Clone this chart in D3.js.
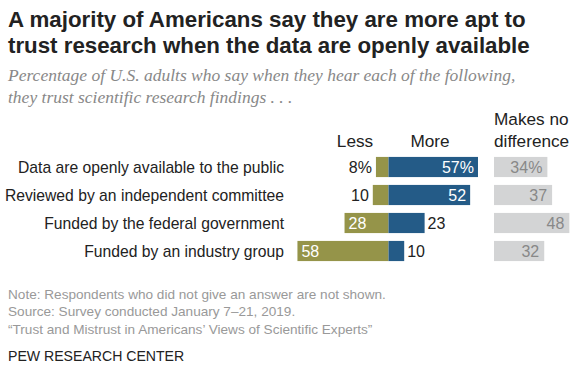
<!DOCTYPE html>
<html><head><meta charset="utf-8">
<script src="https://cdn.jsdelivr.net/npm/d3@7"></script>
<style>body{margin:0;background:#fff}svg{display:block}text{font-family:"Liberation Sans",Arial,Helvetica,sans-serif}</style>
</head><body><svg id="c" width="587" height="371"></svg>
<script>
const categories = ["Data are openly available to the public","Reviewed by an independent committee","Funded by the federal government","Funded by an industry group"];
const lessValues = [8,10,28,58];
const moreValues = [57,52,23,10];
const noDiffValues = [34,37,48,32];
const lessLabels = ["8%","10","28","58"];
const moreLabels = ["57%","52","23","10"];
const noDiffLabels = ["34%","37","48","32"];

const svg = d3.select("#c");
const olive = "#959449", blue = "#245B87", grey = "#D3D4D5";

// Title
svg.append("text").attr("x",8).attr("y",27).attr("font-size",22.3).attr("font-weight","bold").attr("fill","#222").text("A majority of Americans say they are more apt to");
svg.append("text").attr("x",8).attr("y",53).attr("font-size",22.3).attr("font-weight","bold").attr("fill","#222").text("trust research when the data are openly available");
svg.append("text").attr("x",8).attr("y",81).attr("font-size",17.5).attr("font-style","italic").attr("fill","#888").style("font-family","'Liberation Serif','DejaVu Serif',serif").text("Percentage of U.S. adults who say when they hear each of the following,");
svg.append("text").attr("x",8).attr("y",103).attr("font-size",17.5).attr("font-style","italic").attr("fill","#888").style("font-family","'Liberation Serif','DejaVu Serif',serif").text("they trust scientific research findings . . .");

const y = d3.scaleBand().domain(categories).range([153,265]).paddingInner(0.28).paddingOuter(0.14);
const zeroX = 388.5;
const x = d3.scaleLinear().domain([0,100]).range([0,157]);
const gx0 = 494;

const g = svg.append("g");
// headers
g.append("text").attr("x",355).attr("y",147).attr("text-anchor","middle").attr("font-size",17.2).attr("fill","#222").text("Less");
g.append("text").attr("x",430).attr("y",147).attr("text-anchor","middle").attr("font-size",17.2).attr("fill","#222").text("More");
g.append("text").attr("x",gx0).attr("y",125).attr("font-size",17.2).attr("fill","#222").text("Makes no");
g.append("text").attr("x",gx0).attr("y",147).attr("font-size",17.2).attr("fill","#222").text("difference");

categories.forEach((c,i)=>{
  const yy = y(c), h = y.bandwidth(), mid = yy + h/2 + 5.8;
  g.append("text").attr("x",284).attr("y",mid).attr("text-anchor","end").attr("font-size",15.7).attr("fill","#222").text(c);
  const lw = x(lessValues[i]), mw = x(moreValues[i]), nw = x(noDiffValues[i]);
  g.append("rect").attr("x",zeroX-lw).attr("y",yy).attr("width",lw).attr("height",h).attr("fill",olive);
  g.append("rect").attr("x",zeroX).attr("y",yy).attr("width",mw).attr("height",h).attr("fill",blue);
  g.append("rect").attr("x",gx0).attr("y",yy).attr("width",nw).attr("height",h).attr("fill",grey);
  if (lessValues[i] > 15) {
    g.append("text").attr("x",zeroX-lw+4).attr("y",mid).attr("font-size",16).attr("fill","#fff").text(lessLabels[i]);
  } else {
    g.append("text").attr("x",zeroX-lw-4).attr("y",mid).attr("text-anchor","end").attr("font-size",16).attr("fill","#222").text(lessLabels[i]);
  }
  if (moreValues[i] > 30) {
    g.append("text").attr("x",zeroX+mw-4).attr("y",mid).attr("text-anchor","end").attr("font-size",16).attr("fill","#fff").text(moreLabels[i]);
  } else {
    g.append("text").attr("x",zeroX+mw+3).attr("y",mid).attr("font-size",16).attr("fill","#222").text(moreLabels[i]);
  }
  g.append("text").attr("x",gx0+nw-5).attr("y",mid).attr("text-anchor","end").attr("font-size",16).attr("fill","#888").text(noDiffLabels[i]);
});

// notes
const notes = ["Note: Respondents who did not give an answer are not shown.","Source: Survey conducted January 7\u201321, 2019.","\u201cTrust and Mistrust in Americans\u2019 Views of Scientific Experts\u201d"];
notes.forEach((t,i)=>svg.append("text").attr("x",8).attr("y",298.5+i*17.7).attr("font-size",13.6).attr("fill","#999").text(t));
svg.append("text").attr("x",8).attr("y",361).attr("font-size",14.1).attr("fill","#222").text("PEW RESEARCH CENTER");
</script></body></html>
